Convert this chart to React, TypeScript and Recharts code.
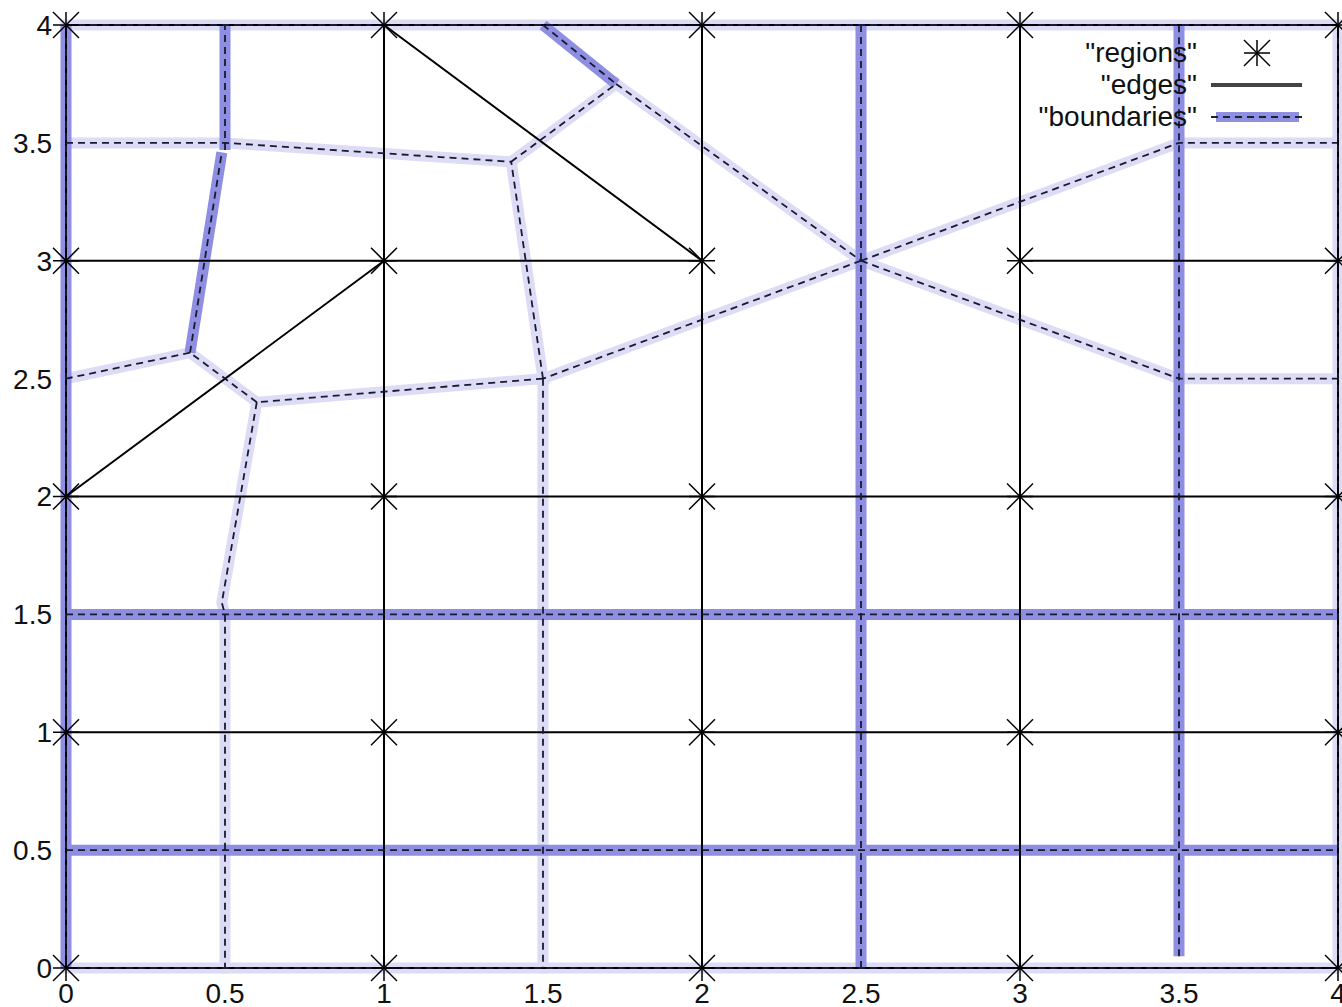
import { ScatterChart, Scatter, XAxis, YAxis, Legend } from 'recharts';

type Pair = [number, number];

const tickValues = [0, 0.5, 1, 1.5, 2, 2.5, 3, 3.5, 4];

// "regions": one asterisk per grid node
const regions: Pair[] = [
  [0, 0], [1, 0], [2, 0], [3, 0], [4, 0],
  [0, 1], [1, 1], [2, 1], [3, 1], [4, 1],
  [0, 2], [1, 2], [2, 2], [3, 2], [4, 2],
  [0, 3], [1, 3], [2, 3], [3, 3], [4, 3],
  [0, 4], [1, 4], [2, 4], [3, 4], [4, 4],
];

// "edges": solid black segments
const edges: Pair[][] = [
  [[0, 0], [4, 0]],
  [[0, 1], [4, 1]],
  [[0, 2], [4, 2]],
  [[0, 3], [2, 3]],
  [[3, 3], [4, 3]],
  [[0, 4], [4, 4]],
  [[0, 0], [0, 4]],
  [[1, 0], [1, 4]],
  [[2, 0], [2, 4]],
  [[3, 0], [3, 4]],
  [[4, 0], [4, 4]],
  [[1, 4], [2, 3]],
  [[0, 2], [1, 3]],
];

// "boundaries" drawn once (pale band)
const lightBoundaries: Pair[][] = [
  [[0, 4], [4, 4]],
  [[0, 0], [4, 0]],
  [[4, 0], [4, 4]],
  [[0, 3.5], [0.5, 3.5], [1.4, 3.42]],
  [[1.4, 3.42], [1.73, 3.75]],
  [[1.73, 3.75], [2.5, 3]],
  [[2.5, 3], [3.5, 2.5], [4, 2.5]],
  [[2.5, 3], [3.5, 3.5], [4, 3.5]],
  [[2.5, 3], [1.5, 2.5]],
  [[1.5, 2.5], [0.6, 2.4]],
  [[1.5, 2.5], [1.4, 3.42]],
  [[1.5, 2.5], [1.5, 0]],
  [[0.6, 2.4], [0.39, 2.61]],
  [[0.39, 2.61], [0, 2.5]],
  [[0.6, 2.4], [0.49, 1.55], [0.5, 1.5], [0.5, 0]],
];

// "boundaries" drawn twice (dark band)
const darkBoundaries: Pair[][] = [
  [[0, 0], [0, 4]],
  [[2.5, 0], [2.5, 4]],
  [[3.5, 0.05], [3.5, 4]],
  [[0, 1.5], [4, 1.5]],
  [[0, 0.5], [4, 0.5]],
  [[0.5, 3.47], [0.5, 4]],
  [[0.39, 2.61], [0.49, 3.46]],
  [[1.5, 4], [1.73, 3.75]],
];

const legendNames = ['"regions"', '"edges"', '"boundaries"'];

const FONT = '"Liberation Sans", Arial, Helvetica, sans-serif';
const LIGHT = '#dcdcf6';
const DARK = '#8e8ee2';

const toPoints = (line: Pair[]) => line.map(([x, y]) => ({ x, y }));

const Asterisk = (props: any) => {
  const { cx, cy } = props;
  const r = 13;
  return (
    <g stroke="#000" strokeWidth={1.5}>
      <line x1={cx - r} y1={cy - r} x2={cx + r} y2={cy + r} />
      <line x1={cx - r} y1={cy + r} x2={cx + r} y2={cy - r} />
      <line x1={cx - r} y1={cy} x2={cx + r} y2={cy} />
      <line x1={cx} y1={cy - r} x2={cx} y2={cy + r} />
    </g>
  );
};

const NoDot = () => <g />;

const LegendBox = () => (
  <div style={{ fontFamily: FONT, fontSize: 28, color: '#111' }}>
    {legendNames.map((name, i) => (
      <div key={name} style={{ display: 'flex', alignItems: 'center', height: 32 }}>
        <div style={{ width: 197, textAlign: 'right', lineHeight: '32px', whiteSpace: 'nowrap' }}>{name}</div>
        <svg width={100} height={32} style={{ marginLeft: 14 }}>
          {i === 0 && <Asterisk cx={46} cy={16} />}
          {i === 1 && <line x1={0} y1={16} x2={91} y2={16} stroke="#444" strokeWidth={4} />}
          {i === 2 && (
            <g>
              <line x1={5} y1={16} x2={88} y2={16} stroke={DARK} strokeWidth={10} />
              <line x1={0} y1={16} x2={91} y2={16} stroke="#222" strokeWidth={1.8} strokeDasharray="7 5" />
            </g>
          )}
        </svg>
      </div>
    ))}
  </div>
);

export default function App() {
  return (
    <div style={{ position: 'absolute', left: 0, top: 0, width: 1342, height: 1007, background: '#fff' }}>
      <ScatterChart width={1342} height={1007} margin={{ top: 25, right: 4, bottom: 0, left: 0 }}>
        <XAxis
          type="number"
          dataKey="x"
          domain={[0, 4]}
          ticks={tickValues}
          interval={0}
          height={39}
          axisLine={false}
          tickLine={false}
          tickMargin={9}
          tick={{ fill: '#111', fontSize: 28, fontFamily: FONT }}
        />
        <YAxis
          type="number"
          dataKey="y"
          domain={[0, 4]}
          ticks={tickValues}
          interval={0}
          width={66}
          axisLine={false}
          tickLine={false}
          tickMargin={8}
          tick={{ fill: '#111', fontSize: 28, fontFamily: FONT }}
        />
        <Legend
          layout="horizontal"
          verticalAlign="middle"
          align="center"
          content={<LegendBox />}
          wrapperStyle={{ position: 'absolute', top: 37, left: 1000, width: 320, height: 96 }}
        />
        {lightBoundaries.map((line, i) => (
          <Scatter
            key={`lb-${i}`}
            data={toPoints(line)}
            shape={NoDot}
            line={{ stroke: LIGHT, strokeWidth: 11, strokeLinecap: 'square' }}
            legendType="none"
            isAnimationActive={false}
          />
        ))}
        {darkBoundaries.map((line, i) => (
          <Scatter
            key={`db-${i}`}
            data={toPoints(line)}
            shape={NoDot}
            line={{ stroke: DARK, strokeWidth: 11, strokeLinecap: 'butt' }}
            legendType="none"
            isAnimationActive={false}
          />
        ))}
        {edges.map((line, i) => (
          <Scatter
            key={`e-${i}`}
            data={toPoints(line)}
            shape={NoDot}
            line={{ stroke: '#000', strokeWidth: 2 }}
            legendType="none"
            isAnimationActive={false}
          />
        ))}
        {[...lightBoundaries, ...darkBoundaries].map((line, i) => (
          <Scatter
            key={`bd-${i}`}
            data={toPoints(line)}
            shape={NoDot}
            line={{ stroke: '#1a1a2e', strokeWidth: 1.8, strokeDasharray: '7 5' }}
            legendType="none"
            isAnimationActive={false}
          />
        ))}
        <Scatter
          name="regions"
          data={toPoints(regions)}
          shape={Asterisk}
          legendType="none"
          isAnimationActive={false}
        />
      </ScatterChart>
    </div>
  );
}
